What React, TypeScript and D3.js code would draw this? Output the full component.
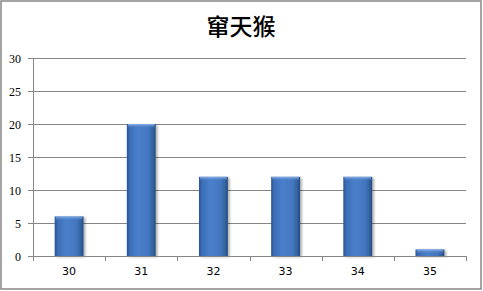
import React from "react";
import * as d3 from "d3";

const title = "窜天猴";
const categories = ["30", "31", "32", "33", "34", "35"];
const values = [6, 20, 12, 12, 12, 1];
const yTicks = [0, 5, 10, 15, 20, 25, 30];

const W = 483;
const H = 291;
const plot = { left: 33, right: 466, top: 58, bottom: 256 };

export default function App() {
  const x = d3
    .scaleBand<string>()
    .domain(categories)
    .range([plot.left, plot.right])
    .paddingInner(0.6)
    .paddingOuter(0.3);
  const xEdges = d3
    .scaleBand<string>()
    .domain(categories)
    .range([plot.left, plot.right]);
  const y = d3.scaleLinear().domain([0, 30]).range([plot.bottom, plot.top]);

  const tickXs = categories.map((c) => xEdges(c)!).concat([plot.right]);

  return (
    <svg
      width={W}
      height={H}
      style={{ position: "absolute", left: 0, top: 0 }}
      fontFamily="DejaVu Sans, sans-serif"
    >
      <defs>
        <linearGradient id="barFill" x1="0" x2="1" y1="0" y2="0">
          <stop offset="0" stopColor="#2a5593" />
          <stop offset="0.12" stopColor="#3d6fb8" />
          <stop offset="0.4" stopColor="#4a80cb" />
          <stop offset="0.75" stopColor="#4376c0" />
          <stop offset="0.9" stopColor="#34649f" />
          <stop offset="1" stopColor="#234a82" />
        </linearGradient>
        <linearGradient id="barTop" x1="0" x2="0" y1="0" y2="1">
          <stop offset="0" stopColor="#8fb3e6" />
          <stop offset="1" stopColor="#4a80cb" stopOpacity="0" />
        </linearGradient>
        <filter id="shadow" x="-20%" y="-20%" width="150%" height="150%">
          <feGaussianBlur in="SourceAlpha" stdDeviation="1.2" />
          <feOffset dx="1.5" dy="0.5" result="b" />
          <feComponentTransfer>
            <feFuncA type="linear" slope="0.3" />
          </feComponentTransfer>
          <feMerge>
            <feMergeNode />
            <feMergeNode in="SourceGraphic" />
          </feMerge>
        </filter>
      </defs>

      <rect x={1} y={1} width={480} height={288} fill="#fff" stroke="#878787" strokeWidth={1.5} />

      <text
        x={241}
        y={35}
        textAnchor="middle"
        fontSize={23}
        fontWeight={500}
        fontFamily="Noto Sans CJK SC, sans-serif"
        fill="#000"
      >
        {title}
      </text>

      {yTicks.map((t) => (
        <g key={t}>
          {t > 0 && (
            <line
              x1={plot.left}
              x2={plot.right}
              y1={Math.round(y(t)) + 0.5}
              y2={Math.round(y(t)) + 0.5}
              stroke="#868686"
              strokeWidth={1}
            />
          )}
          <line
            x1={plot.left - 5}
            x2={plot.left}
            y1={Math.round(y(t)) + 0.5}
            y2={Math.round(y(t)) + 0.5}
            stroke="#868686"
          />
          <text
            x={21}
            y={y(t) + 4.5}
            textAnchor="end"
            fontSize={12}
            fontFamily="Liberation Serif, serif"
            fill="#000"
          >
            {t}
          </text>
        </g>
      ))}

      {categories.map((c, i) => {
        const bx = x(c)!;
        const bw = x.bandwidth();
        const by = y(values[i]);
        const bh = plot.bottom - by;
        return (
          <g key={c} filter="url(#shadow)">
            <rect x={bx} y={by} width={bw} height={bh} fill="url(#barFill)" />
            <rect
              x={bx + 1}
              y={by}
              width={bw - 2}
              height={Math.min(4, bh)}
              fill="url(#barTop)"
            />
          </g>
        );
      })}

      <line
        x1={plot.left + 0.5}
        x2={plot.left + 0.5}
        y1={plot.top}
        y2={plot.bottom}
        stroke="#868686"
      />
      <line
        x1={plot.left}
        x2={plot.right}
        y1={plot.bottom + 0.5}
        y2={plot.bottom + 0.5}
        stroke="#868686"
      />
      {tickXs.map((tx, i) => (
        <line
          key={i}
          x1={Math.round(tx) + 0.5}
          x2={Math.round(tx) + 0.5}
          y1={plot.bottom}
          y2={plot.bottom + 5}
          stroke="#868686"
        />
      ))}
      {categories.map((c) => (
        <text
          key={c}
          x={xEdges(c)! + xEdges.bandwidth() / 2}
          y={275}
          textAnchor="middle"
          fontSize={11}
          fill="#000"
        >
          {c}
        </text>
      ))}
    </svg>
  );
}
